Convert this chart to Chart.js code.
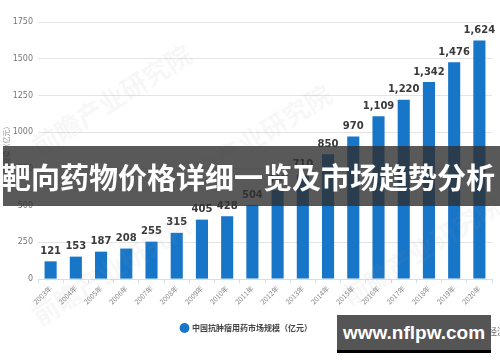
<!DOCTYPE html>
<html>
<head>
<meta charset="utf-8">
<script src="https://cdn.jsdelivr.net/npm/chart.js@4.4.1/dist/chart.umd.min.js"></script>
<style>
  html, body { margin: 0; padding: 0; background: #fff; }
  #wrap { position: relative; width: 500px; height: 362px; overflow: hidden; }
  #c { position: absolute; left: 0; top: 0; }
  .wm { position: absolute; color: rgba(150,150,150,0.08); font: bold 26px "Noto Sans CJK SC"; transform: rotate(-32deg); white-space: nowrap; pointer-events: none; }
  #banner { position: absolute; left: 3px; top: 146px; width: 497px; height: 60px; background: rgba(48,48,48,0.8);
    color: #fff; font: bold 29px "Noto Sans CJK SC"; line-height: 60px; text-align: center; white-space: nowrap; }
  #banner span { position: relative; left: -3px; }
  #app { position: absolute; left: 470px; top: 325px; font: 9px "Noto Sans CJK SC"; color: #666; white-space: nowrap; }
  #site { position: absolute; left: 337px; top: 315px; width: 154px; height: 35px; background: #555; border-bottom: 3px solid #000;
    color: #fff; font: bold 19px "Liberation Sans", Arial, sans-serif; line-height: 35px; text-align: center; }
</style>
</head>
<body>
<div id="wrap">
  <canvas id="c" width="500" height="362"></canvas>
  <div class="wm" style="left:20px;top:80px;">前瞻产业研究院</div>
  <div class="wm" style="left:160px;top:120px;">前瞻产业研究院</div>
  <div class="wm" style="left:20px;top:250px;">前瞻产业研究院</div>
  <div class="wm" style="left:330px;top:230px;">前瞻产业研究院</div>
  <div id="banner"><span>靶向药物价格详细一览及市场趋势分析</span></div>
  <div id="app">前瞻经济学人APP</div>
  <div id="site">www.nflpw.com</div>
</div>
<script>
// 中国抗肿瘤用药市场规模（亿元）
const years = ['2003年', '2004年', '2005年', '2006年', '2007年', '2008年', '2009年', '2010年', '2011年',
               '2012年', '2013年', '2014年', '2015年', '2016年', '2017年', '2018年', '2019年', '2020年'];
const marketSize = [121, 153, 187, 208, 255, 315, 405, 428, 504, 607, 710, 850, 970, 1109, 1220, 1342, 1476, 1624];
const seriesName = '中国抗肿瘤用药市场规模（亿元）';
const yTicks = [0, 250, 500, 750, 1000, 1250, 1500, 1750];

const barColor = '#1876c8';

// value labels on top of each bar
const valueLabels = {
  id: 'valueLabels',
  afterDatasetsDraw(chart) {
    const { ctx } = chart;
    const meta = chart.getDatasetMeta(0);
    ctx.save();
    ctx.font = 'bold 10px "DejaVu Sans", sans-serif';
    ctx.fillStyle = '#3a3a3a';
    ctx.textAlign = 'center';
    ctx.textBaseline = 'bottom';
    meta.data.forEach((bar, i) => {
      ctx.fillText(marketSize[i].toLocaleString('en-US'), bar.x, bar.y - 5);
    });
    ctx.restore();
  }
};

new Chart(document.getElementById('c'), {
  type: 'bar',
  data: {
    labels: years,
    datasets: [{
      label: seriesName,
      data: marketSize,
      backgroundColor: barColor,
      barPercentage: 0.5,
      categoryPercentage: 0.96,
    }],
  },
  options: {
    responsive: false,
    animation: false,
    layout: { padding: { left: 1, right: 8, top: 22, bottom: 20 } },
    plugins: {
      tooltip: { enabled: false },
      legend: {
        position: 'bottom',
        labels: {
          usePointStyle: true,
          pointStyle: 'circle',
          boxWidth: 7,
          boxHeight: 7,
          padding: 6,
          color: '#444',
          font: { size: 8, family: '"Noto Sans CJK SC"', weight: 'bold' },
        },
      },
    },
    scales: {
      x: {
        grid: { drawOnChartArea: false, drawTicks: true, tickLength: 4, color: '#cfe0ee', offset: true },
        border: { color: '#cfe0ee' },
        ticks: {
          maxRotation: 45, minRotation: 45, autoSkip: false,
          color: '#888', font: { size: 7, family: '"Noto Sans CJK SC"' }, padding: 1,
        },
        afterFit(axis) { axis.height += 11; },
      },
      y: {
        min: 0, max: 1750,
        afterBuildTicks(axis) { axis.ticks = yTicks.map(v => ({ value: v })); },
        grid: { color: '#e4e4e4', drawTicks: false },
        border: { display: false },
        ticks: {
          color: '#777', font: { size: 8, family: '"DejaVu Sans"' }, padding: 5,
          callback: v => String(v),
        },
        title: { display: true, text: '市场规模（亿元）', color: '#888', font: { size: 7, family: '"Noto Sans CJK SC"' }, padding: 1 },
        afterFit(axis) { axis.width = 37; },
      },
    },
  },
  plugins: [valueLabels],
});
</script>
</body>
</html>
